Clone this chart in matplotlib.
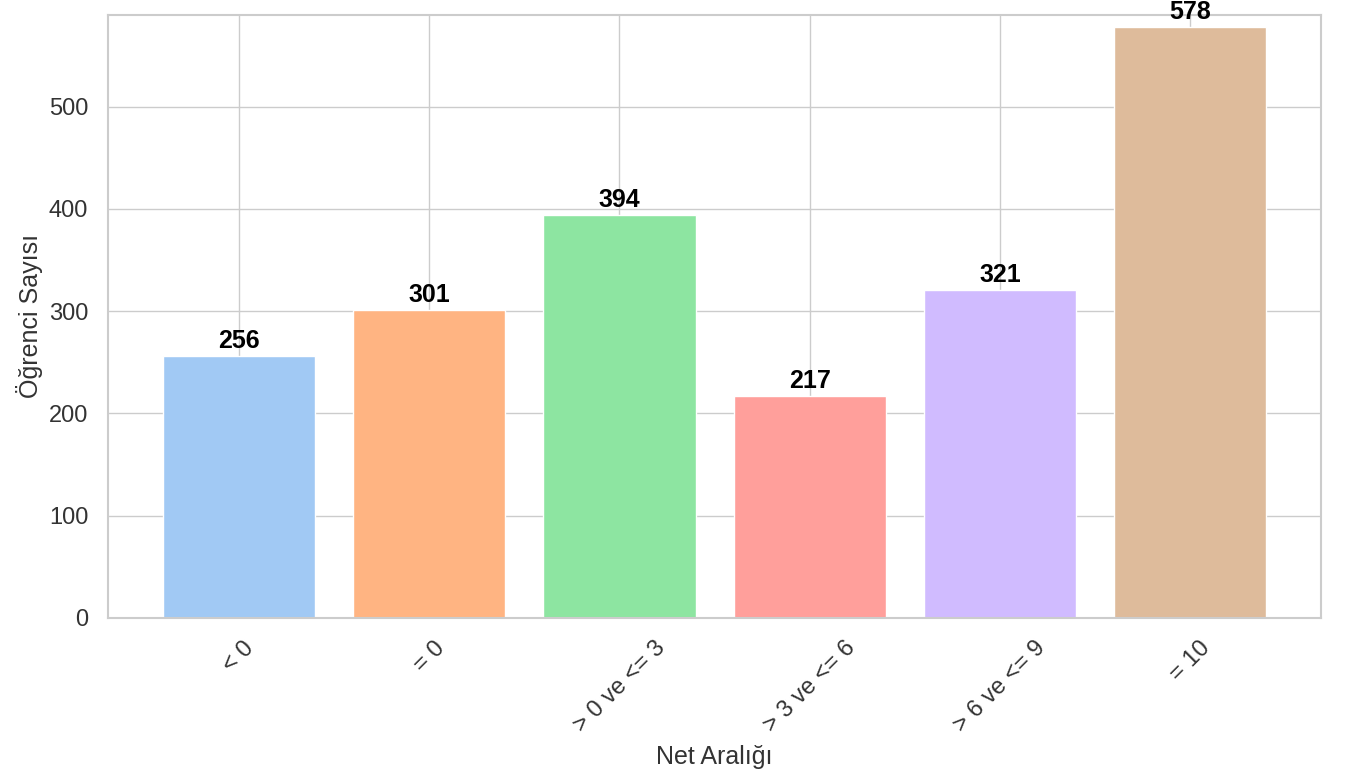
import matplotlib
matplotlib.use("Agg")
import matplotlib.pyplot as plt
import seaborn as sns

categories = ["< 0", "= 0", "> 0 ve <= 3", "> 3 ve <= 6", "> 6 ve <= 9", "= 10"]
counts = [256, 301, 394, 217, 321, 578]

sns.set_theme(style="whitegrid")
plt.rcParams['font.family'] = ['Liberation Sans', 'DejaVu Sans']
colors = sns.color_palette("pastel", len(categories))

fig, ax = plt.subplots(figsize=(13.47, 7.8), dpi=100)
fig.subplots_adjust(left=0.080, right=0.981, top=0.981, bottom=0.208)

bars = ax.bar(categories, counts, color=colors, width=0.8)
for b, v in zip(bars, counts):
    ax.text(b.get_x() + b.get_width() / 2, v + 3, str(v), ha='center', va='bottom',
            fontsize=18, fontweight='bold', color='black')

ax.set_ylim(0, 590)
ax.set_xlabel("Net Aralığı", fontsize=18, color='#333333', labelpad=6)
ax.set_ylabel("Öğrenci Sayısı", fontsize=18, color='#333333', labelpad=4)
ax.tick_params(axis='both', labelsize=17, colors='#333333', pad=8)
plt.setp(ax.get_xticklabels(), rotation=45)
for s in ax.spines.values():
    s.set_color('#cccccc')
    s.set_linewidth(1.5)

fig.savefig("out.png", dpi=100)
